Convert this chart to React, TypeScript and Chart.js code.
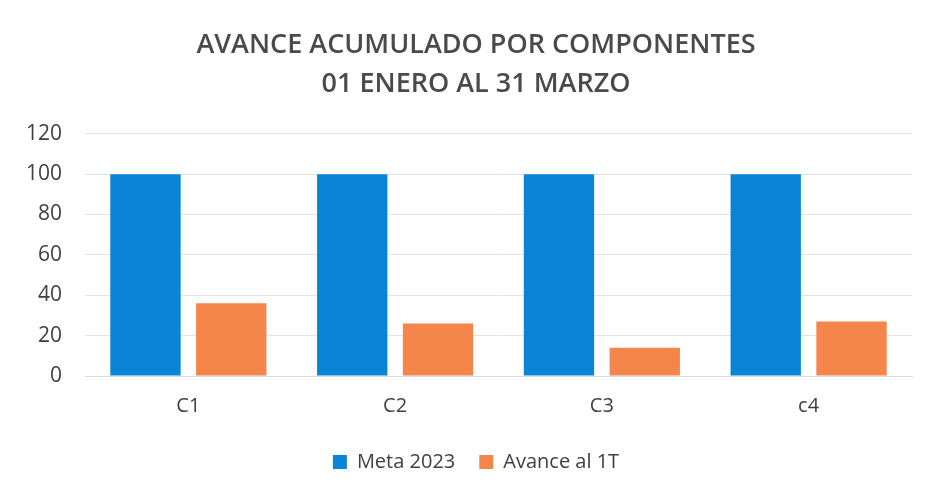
import React, { useEffect, useRef } from "react";
import { Chart, registerables } from "chart.js";

Chart.register(...registerables);

const categories = ["C1", "C2", "C3", "c4"];
const meta2023 = [100, 100, 100, 100];
const avance1T = [36, 26, 14, 27];
const titleLines = ["AVANCE ACUMULADO POR COMPONENTES", "01 ENERO AL 31 MARZO"];
const seriesNames = ["Meta 2023", "Avance al 1T"];

const unclipYLabels = {
  id: "unclipYLabels",
  afterLayout(chart: any) {
    if (chart.scales.y) chart.scales.y.left = 0;
  },
};

export default function App() {
  const ref = useRef<HTMLCanvasElement | null>(null);
  useEffect(() => {
    if (!ref.current) return;
    const chart = new Chart(ref.current, {
      type: "bar",
      data: {
        labels: categories,
        datasets: [
          {
            label: seriesNames[0],
            data: meta2023,
            backgroundColor: "#0a84d6",
            categoryPercentage: 0.83,
            barPercentage: 0.82,
          },
          {
            label: seriesNames[1],
            data: avance1T,
            backgroundColor: "#f5864b",
            categoryPercentage: 0.83,
            barPercentage: 0.82,
          },
        ],
      },
      plugins: [unclipYLabels],
      options: {
        responsive: true,
        maintainAspectRatio: false,
        animation: false,
        layout: { padding: { left: 40, right: 16, top: 26, bottom: 12 } },
        plugins: {
          title: {
            display: true,
            text: titleLines,
            color: "#4a4a4a",
            font: { family: "'Open Sans', sans-serif", size: 27, weight: "600", lineHeight: 1.44 },
            padding: { top: 0, bottom: 30 },
          },
          legend: {
            position: "bottom",
            labels: {
              color: "#404040",
              font: { family: "'Open Sans', sans-serif", size: 20 },
              boxWidth: 14,
              boxHeight: 14,
              padding: 24,
            },
          },
          tooltip: { enabled: false },
        },
        scales: {
          x: {
            grid: { display: false },
            border: { display: true, color: "#d9d9d9" },
            ticks: { color: "#404040", font: { family: "'Open Sans', sans-serif", size: 20 }, padding: 10 },
          },
          y: {
            min: 0,
            max: 120,
            afterFit: (scale: any) => {
              scale.width = 45;
            },
            ticks: { stepSize: 20, color: "#404040", font: { family: "'Open Sans', sans-serif", size: 21 }, padding: 23 },
            grid: { color: "#e3e3e3", drawTicks: false },
            border: { display: false },
          },
        },
      },
    });
    return () => chart.destroy();
  }, []);
  return (
    <div style={{ position: "fixed", left: 0, top: 0, width: 928, height: 494, background: "#fff" }}>
      <canvas ref={ref} />
    </div>
  );
}
